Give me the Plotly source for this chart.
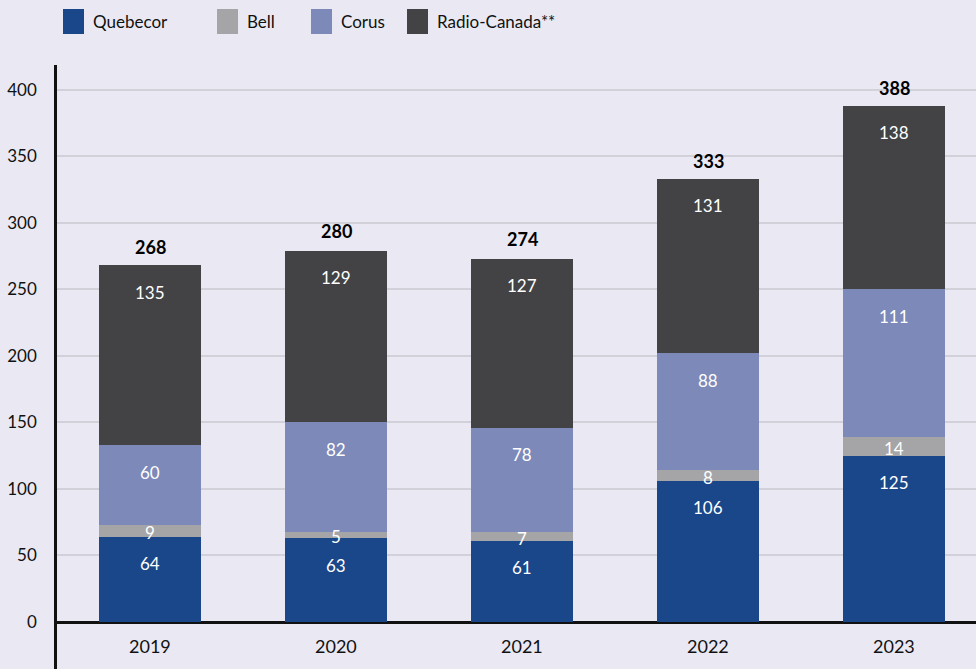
import plotly.graph_objects as go

years = ["2019", "2020", "2021", "2022", "2023"]
quebecor = [64, 63, 61, 106, 125]
bell = [9, 5, 7, 8, 14]
corus = [60, 82, 78, 88, 111]
radio_canada = [135, 129, 127, 131, 138]
totals = [268, 280, 274, 333, 388]

series = [
    ("Quebecor", quebecor, "#19478A"),
    ("Bell", bell, "#A5A5A8"),
    ("Corus", corus, "#7C89B9"),
    ("Radio-Canada**", radio_canada, "#434345"),
]

FONT = "Lato, 'Noto Sans', sans-serif"
BG = "#EAE9F3"

fig = go.Figure()
for name, vals, col in series:
    fig.add_trace(go.Bar(x=years, y=vals, name=name, marker=dict(color=col, line=dict(width=0)),
                         width=0.548, showlegend=False, hoverinfo="skip"))

annotations = []
cum = [0] * len(years)
for name, vals, col in series:
    for i, v in enumerate(vals):
        bottom = cum[i]
        top = bottom + v
        if name == "Bell":
            annotations.append(dict(x=i, y=(bottom + top) / 2, text=str(v), showarrow=False,
                                    yshift=-2, font=dict(family=FONT, size=17, color="white")))
        else:
            annotations.append(dict(x=i, y=top, text=str(v), showarrow=False,
                                    yshift=-27, font=dict(family=FONT, size=17, color="white")))
        cum[i] = top

for i, t in enumerate(totals):
    annotations.append(dict(x=i, y=t, text="<b>%d</b>" % t, showarrow=False, yanchor="bottom",
                            yshift=5, font=dict(family=FONT, size=18, color="black")))

for i, yr in enumerate(years):
    annotations.append(dict(x=i, y=-18, text=yr, showarrow=False,
                            font=dict(family=FONT, size=18, color="#111111")))

# manual legend
shapes = []
leg_x = [63, 217, 311, 407]
for (name, vals, col), lx in zip(series, leg_x):
    shapes.append(dict(type="rect", xref="paper", yref="paper",
                       x0=(lx - 57) / 919, x1=(lx + 21 - 57) / 919,
                       y0=(669 - 34) / 604, y1=(669 - 9) / 604,
                       fillcolor=col, line=dict(width=0)))
    annotations.append(dict(xref="paper", yref="paper", x=(lx + 28 - 57) / 919, y=(669 - 21.5) / 604,
                            xanchor="left", yanchor="middle", text=name, showarrow=False,
                            font=dict(family=FONT, size=17, color="#111111")))

fig.update_layout(
    width=976, height=669,
    margin=dict(l=57, r=0, t=65, b=0),
    paper_bgcolor=BG, plot_bgcolor=BG,
    barmode="stack", bargap=0,
    showlegend=False,
    font=dict(family=FONT, size=17, color="#111111"),
    xaxis=dict(type="category", range=[-0.5, 4.44], showticklabels=False, showgrid=False,
               zeroline=False, showline=False, ticks=""),
    yaxis=dict(range=[-35.3, 418.5], tickvals=[0, 50, 100, 150, 200, 250, 300, 350, 400],
               showgrid=True, gridcolor="#D2D1D9", gridwidth=1.5,
               zeroline=True, zerolinecolor="#111111", zerolinewidth=2.5,
               showline=True, linecolor="#111111", linewidth=2.5, ticks="",
               ticklabelstandoff=14, tickfont=dict(family=FONT, size=17, color="#111111")),
    annotations=annotations,
    shapes=shapes,
)

fig.write_html("out.html",
               config={"displayModeBar": False},
               post_script="document.body.style.margin='0';document.body.style.padding='0';"
                           "document.body.style.overflow='hidden';"
                           "document.body.style.background='" + BG + "';")
